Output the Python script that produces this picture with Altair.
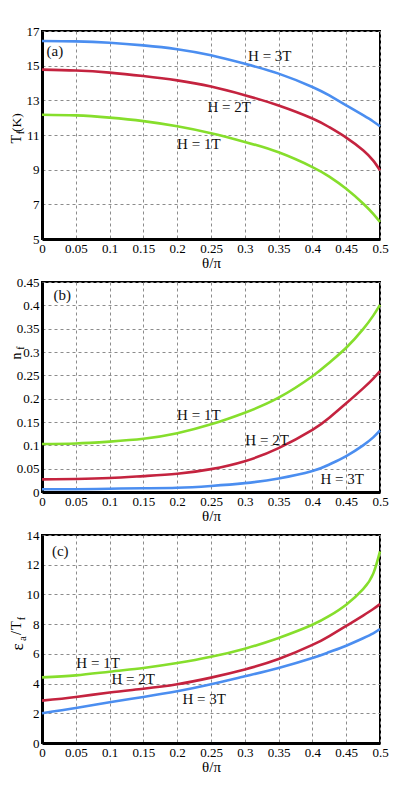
import altair as alt
import pandas as pd

theta = [0, 0.05, 0.1, 0.15, 0.2, 0.25, 0.3, 0.35, 0.4, 0.425, 0.45, 0.475, 0.49, 0.5]
series = ["1T", "2T", "3T"]

# panel (a): T_f (K)
tf_1T = [12.17, 12.13, 12.0, 11.8, 11.5, 11.1, 10.6, 10.0, 9.15, 8.6, 7.9, 7.05, 6.45, 5.98]
tf_2T = [14.77, 14.72, 14.6, 14.4, 14.15, 13.8, 13.3, 12.7, 11.95, 11.45, 10.85, 10.12, 9.52, 8.96]
tf_3T = [16.42, 16.4, 16.32, 16.17, 15.95, 15.6, 15.11, 14.54, 13.77, 13.28, 12.71, 12.14, 11.78, 11.5]

# panel (b): n_f
nf_1T = [0.103, 0.104, 0.108, 0.114, 0.126, 0.145, 0.170, 0.202, 0.248, 0.277, 0.309, 0.349, 0.378, 0.401]
nf_2T = [0.027, 0.028, 0.030, 0.034, 0.039, 0.049, 0.066, 0.094, 0.133, 0.159, 0.190, 0.222, 0.243, 0.259]
nf_3T = [0.006, 0.006, 0.007, 0.008, 0.009, 0.013, 0.019, 0.029, 0.045, 0.059, 0.077, 0.10, 0.117, 0.132]

# panel (c): eps_a / T_f
ea_1T = [4.42, 4.55, 4.8, 5.05, 5.38, 5.8, 6.35, 7.07, 7.96, 8.55, 9.31, 10.35, 11.4, 12.9]
ea_2T = [2.85, 3.1, 3.4, 3.65, 3.95, 4.4, 4.95, 5.65, 6.6, 7.2, 7.88, 8.58, 9.02, 9.35]
ea_3T = [2.0, 2.35, 2.74, 3.1, 3.48, 3.95, 4.49, 5.05, 5.72, 6.12, 6.55, 7.05, 7.38, 7.67]

x_ticks = [0, 0.05, 0.1, 0.15, 0.2, 0.25, 0.3, 0.35, 0.4, 0.45, 0.5]
ya_ticks = [5, 7, 9, 11, 13, 15, 17]
yb_ticks = [0, 0.05, 0.1, 0.15, 0.2, 0.25, 0.3, 0.35, 0.4, 0.45]
yc_ticks = [0, 2, 4, 6, 8, 10, 12, 14]

# curve labels: (text, theta, value)
labels_a = [("H = 3T", 0.337, 15.57), ("H = 2T", 0.277, 12.63), ("H = 1T", 0.232, 10.5), ("(a)", 0.019, 15.86)]
labels_b = [("H = 1T", 0.232, 0.166), ("H = 2T", 0.333, 0.111), ("H = 3T", 0.444, 0.028), ("(b)", 0.030, 0.422)]
labels_c = [("H = 1T", 0.083, 5.38), ("H = 2T", 0.135, 4.31), ("H = 3T", 0.240, 2.96), ("(c)", 0.027, 12.92)]

colors = ["#86DE2C", "#C4233F", "#4B8EF0"]
FONT = "Times New Roman, Liberation Serif, serif"
W = 338


def long_df(v1, v2, v3):
    rows = []
    for name, vals in zip(series, [v1, v2, v3]):
        for t, v in zip(theta, vals):
            rows.append({"theta": t, "value": v, "series": name})
    return pd.DataFrame(rows)


def title_piece(text, x, y, size):
    return alt.Chart(pd.DataFrame({"k": [0]})).mark_text(
        angle=270, align="center", baseline="alphabetic", font=FONT, fontSize=size, color="black"
    ).encode(x=alt.value(x), y=alt.value(y), text=alt.value(text))


def panel(v1, v2, v3, ydom, yticks, yfmt, height, labels, pieces):
    df = long_df(v1, v2, v3)
    xscale = alt.Scale(domain=[0, 0.5], nice=False, zero=False)
    xaxis = alt.Axis(values=x_ticks, format="~g", title="θ/π")
    yscale = alt.Scale(domain=ydom, nice=False, zero=False)
    yaxis = alt.Axis(values=yticks, format=yfmt, title=None)
    lines = alt.Chart(df).mark_line(strokeWidth=2.6, interpolate="natural").encode(
        x=alt.X("theta:Q", scale=xscale, axis=xaxis),
        y=alt.Y("value:Q", scale=yscale, axis=yaxis),
        color=alt.Color("series:N", scale=alt.Scale(domain=series, range=colors), legend=None),
    )
    ldf = pd.DataFrame(labels, columns=["txt", "theta", "value"])
    txt = alt.Chart(ldf).mark_text(font=FONT, fontSize=15, color="#111", align="center",
                                   baseline="middle").encode(
        x=alt.X("theta:Q", scale=xscale, axis=xaxis),
        y=alt.Y("value:Q", scale=yscale, axis=yaxis),
        text="txt:N")
    layers = [lines, txt] + [title_piece(*p) for p in pieces]
    return alt.layer(*layers).properties(width=W, height=height)


pa = panel(tf_1T, tf_2T, tf_3T, [5, 17], ya_ticks, "d", 208, labels_a,
           [("T", -21, 108, 14.5), ("f", -18, 101.5, 10), ("(K)", -21, 91.5, 13.5)])
pb = panel(nf_1T, nf_2T, nf_3T, [0, 0.45], yb_ticks, "~g", 210, labels_b,
           [("n", -21, 74, 14), ("f", -18, 66, 10)])
pc = panel(ea_1T, ea_2T, ea_3T, [0, 14], yc_ticks, "d", 208, labels_c,
           [("ε", -19, 112, 17), ("a", -16, 103.5, 11), ("/", -21, 98, 14), ("T", -21, 90.5, 14.5), ("f", -17, 83.5, 10)])

chart = alt.vconcat(pa, pb, pc, spacing=43, bounds="flush").properties(
    padding={"left": 0, "top": 16, "right": 0, "bottom": 0}
).configure_view(
    stroke="black", strokeWidth=2
).configure_axis(
    labelFont=FONT, labelFontSize=13, labelColor="black", labelOverlap=False, labelFlush=False,
    titleFont=FONT, titleFontSize=15, titleFontWeight="normal", titleColor="black",
    domainColor="black", domainWidth=3, ticks=False, labelPadding=3, titlePadding=0,
    gridColor="#8c8c8c", gridDash=[3, 3], gridWidth=1,
)

chart.save("out.html", embed_options={"renderer": "svg", "actions": False})
